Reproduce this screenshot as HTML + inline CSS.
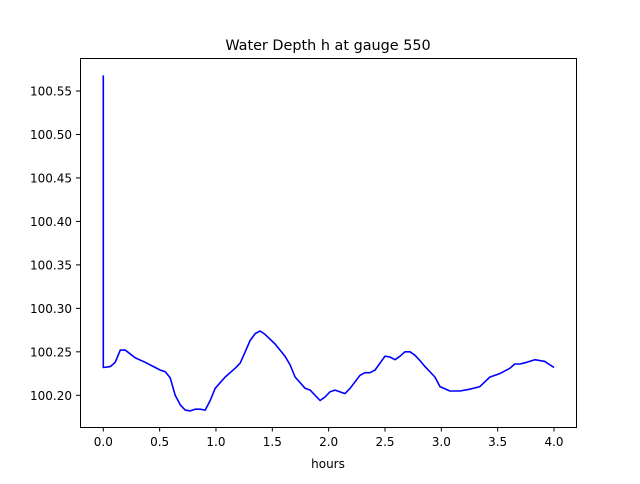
<!DOCTYPE html>
<html><head><meta charset="utf-8"><style>
body{margin:0;background:#fff;font-family:"DejaVu Sans","Liberation Sans",sans-serif;}
svg text{font-family:"DejaVu Sans","Liberation Sans",sans-serif;}
</style></head><body>
<svg id="chart" width="640" height="480" xmlns="http://www.w3.org/2000/svg">
<rect width="640" height="480" fill="#fff"/>
<text x="328" y="50" text-anchor="middle" font-size="14.4">Water Depth h at gauge 550</text>
<g id="plot"></g>
<rect x="80.5" y="58.5" width="496" height="369" fill="none" stroke="#000" stroke-width="1"/>
<text x="328" y="468" text-anchor="middle" font-size="12">hours</text>
</svg>
<script>
const times=[0,0,0.062,0.106,0.151,0.195,0.284,0.372,0.461,0.505,0.55,0.594,0.638,0.683,0.727,0.771,0.816,0.86,0.904,0.949,0.993,1.082,1.17,1.215,1.259,1.303,1.348,1.392,1.436,1.525,1.613,1.658,1.702,1.791,1.835,1.924,1.968,2.012,2.057,2.145,2.19,2.278,2.323,2.367,2.411,2.5,2.544,2.589,2.633,2.677,2.722,2.766,2.81,2.855,2.943,2.988,3.076,3.165,3.254,3.342,3.431,3.52,3.608,3.652,3.697,3.759,3.83,3.918,4.0];
const depths=[100.568,100.232,100.233,100.238,100.252,100.252,100.243,100.238,100.232,100.229,100.227,100.220,100.200,100.189,100.183,100.182,100.184,100.184,100.183,100.194,100.208,100.221,100.231,100.237,100.250,100.263,100.271,100.274,100.270,100.259,100.245,100.235,100.221,100.208,100.206,100.194,100.198,100.204,100.206,100.202,100.208,100.223,100.226,100.226,100.229,100.245,100.244,100.241,100.245,100.250,100.250,100.246,100.240,100.233,100.221,100.210,100.205,100.205,100.207,100.210,100.221,100.225,100.231,100.236,100.236,100.238,100.241,100.239,100.232];
const xTicks=[0,0.5,1.0,1.5,2.0,2.5,3.0,3.5,4.0];
const xTickLabels=["0.0","0.5","1.0","1.5","2.0","2.5","3.0","3.5","4.0"];
const yTicks=[100.20,100.25,100.30,100.35,100.40,100.45,100.50,100.55];
const yTickLabels=["100.20","100.25","100.30","100.35","100.40","100.45","100.50","100.55"];
const NS="http://www.w3.org/2000/svg";
const X=t=>103.3+(t-0)*(554-103.3)/4;
const Y=v=>395.3-(v-100.20)*(395.3-91)/0.35;
const g=document.getElementById('plot');
function mk(tag,attrs){const e=document.createElementNS(NS,tag);for(const k in attrs)e.setAttribute(k,attrs[k]);g.appendChild(e);return e;}
xTicks.forEach((t,i)=>{
 const l=mk('line',{x1:X(t),x2:X(t),y1:427,y2:431.5,stroke:'#000'});
 
 
 const tx=mk('text',{x:X(t),y:446,'text-anchor':'middle','font-size':12});
 tx.textContent=xTickLabels[i];
 
 
});
yTicks.forEach((v,i)=>{
 const l=mk('line',{x1:76,x2:80.5,y1:Y(v),y2:Y(v),stroke:'#000'});
 
 
 const tx=mk('text',{x:72,y:Y(v)+4.5,'text-anchor':'end','font-size':12});
 tx.textContent=yTickLabels[i];
 
 
});
const p=mk('polyline',{points:times.map((t,i)=>X(t).toFixed(1)+','+Y(depths[i]).toFixed(1)).join(' '),fill:'none',stroke:'#0000ff','stroke-width':1.6,'stroke-linejoin':'round'});


</script>
</body></html>
